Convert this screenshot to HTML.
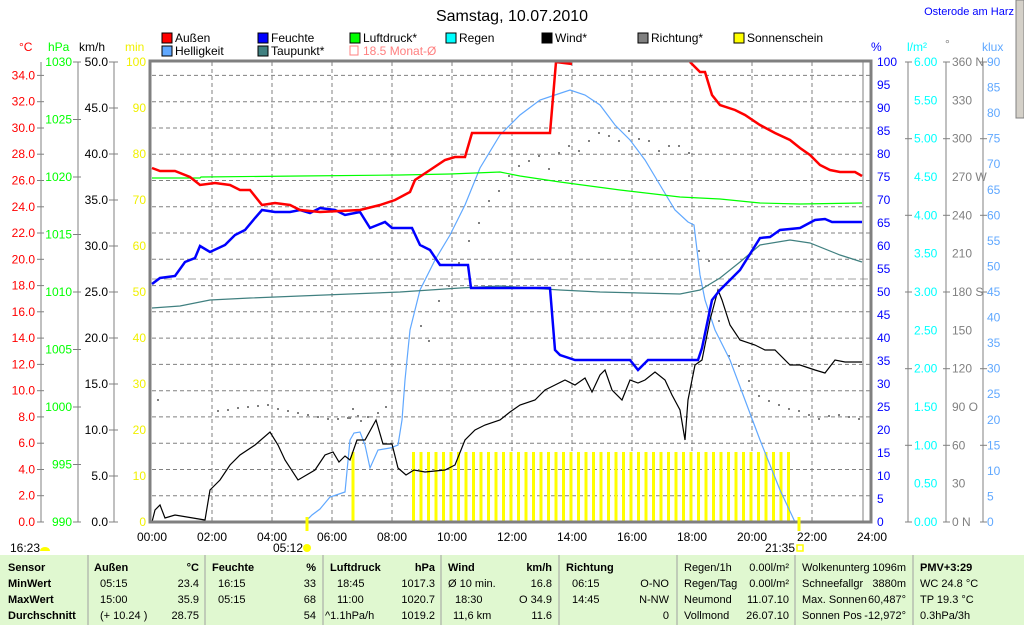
<!DOCTYPE html>
<html><head><meta charset="utf-8"><style>
html,body{margin:0;padding:0;background:#fff;width:1024px;height:625px;overflow:hidden}
svg{display:block;font-family:"Liberation Sans",sans-serif;font-size:12px}
</style></head><body>
<svg width="1024" height="625" viewBox="0 0 1024 625" xmlns="http://www.w3.org/2000/svg">
<text x="512" y="21" font-size="16" text-anchor="middle" fill="#000">Samstag, 10.07.2010</text>
<text x="1014" y="15" font-size="11" text-anchor="end" fill="#0000ff">Osterode am Harz</text>
<rect x="1016" y="0" width="8" height="118" fill="#d4d0c8" stroke="#808080"/>
<g font-size="12">
<rect x="162" y="33" width="10" height="10" fill="#ff0000" stroke="#000"/><text x="175" y="42">Außen</text>
<rect x="258" y="33" width="10" height="10" fill="#0000ff" stroke="#000"/><text x="271" y="42">Feuchte</text>
<rect x="350" y="33" width="10" height="10" fill="#00ff00" stroke="#000"/><text x="363" y="42">Luftdruck*</text>
<rect x="446" y="33" width="10" height="10" fill="#00ffff" stroke="#000"/><text x="459" y="42">Regen</text>
<rect x="542" y="33" width="10" height="10" fill="#000" stroke="#000"/><text x="555" y="42">Wind*</text>
<rect x="638" y="33" width="10" height="10" fill="#808080" stroke="#000"/><text x="651" y="42">Richtung*</text>
<rect x="734" y="33" width="10" height="10" fill="#ffff00" stroke="#000"/><text x="747" y="42">Sonnenschein</text>
<rect x="162" y="46" width="10" height="10" fill="#60a8ff" stroke="#000"/><text x="175" y="55">Helligkeit</text>
<rect x="258" y="46" width="10" height="10" fill="#408080" stroke="#000"/><text x="271" y="55">Taupunkt*</text>
<rect x="350" y="46" width="8" height="9" fill="none" stroke="#ff8080"/><text x="363" y="55" fill="#ff8080">18.5 Monat-Ø</text>
</g>
<g font-size="12">
<text x="19" y="51" fill="#ff0000">°C</text>
<text x="48" y="51" fill="#00ff00">hPa</text>
<text x="79" y="51" fill="#000">km/h</text>
<text x="125" y="51" fill="#f0f000">min</text>
<text x="871" y="51" fill="#0000ff">%</text>
<text x="907" y="51" fill="#00ffff">l/m²</text>
<text x="945" y="48" fill="#808080">°</text>
<text x="982" y="51" fill="#60a8ff">klux</text>
</g>
<g stroke="#808080" stroke-dasharray="4,3" stroke-width="1">
<line x1="152" y1="495.7" x2="871" y2="495.7"/><line x1="152" y1="469.5" x2="871" y2="469.5"/><line x1="152" y1="443.2" x2="871" y2="443.2"/><line x1="152" y1="416.9" x2="871" y2="416.9"/><line x1="152" y1="390.7" x2="871" y2="390.7"/><line x1="152" y1="364.4" x2="871" y2="364.4"/><line x1="152" y1="338.1" x2="871" y2="338.1"/><line x1="152" y1="311.8" x2="871" y2="311.8"/><line x1="152" y1="285.6" x2="871" y2="285.6"/><line x1="152" y1="259.3" x2="871" y2="259.3"/><line x1="152" y1="233" x2="871" y2="233"/><line x1="152" y1="206.8" x2="871" y2="206.8"/><line x1="152" y1="180.5" x2="871" y2="180.5"/><line x1="152" y1="154.2" x2="871" y2="154.2"/><line x1="152" y1="128" x2="871" y2="128"/><line x1="152" y1="101.7" x2="871" y2="101.7"/><line x1="152" y1="75.4" x2="871" y2="75.4"/>
<line x1="212" y1="62" x2="212" y2="522"/><line x1="272" y1="62" x2="272" y2="522"/><line x1="332" y1="62" x2="332" y2="522"/><line x1="392" y1="62" x2="392" y2="522"/><line x1="452" y1="62" x2="452" y2="522"/><line x1="512" y1="62" x2="512" y2="522"/><line x1="572" y1="62" x2="572" y2="522"/><line x1="632" y1="62" x2="632" y2="522"/><line x1="692" y1="62" x2="692" y2="522"/><line x1="752" y1="62" x2="752" y2="522"/><line x1="812" y1="62" x2="812" y2="522"/>
</g>
<line x1="152" y1="279" x2="871" y2="279" stroke="#a0a0a0" stroke-dasharray="8,4"/>
<line x1="863" y1="62" x2="863" y2="522" stroke="#808080"/>
<g fill="#ffff00">
<rect x="351.5" y="452" width="3" height="70"/>
<rect x="412" y="452" width="3" height="70"/><rect x="419.5" y="452" width="3" height="70"/><rect x="427" y="452" width="3" height="70"/><rect x="434.5" y="452" width="3" height="70"/><rect x="442" y="452" width="3" height="70"/><rect x="449.5" y="452" width="3" height="70"/><rect x="457" y="452" width="3" height="70"/><rect x="464.5" y="452" width="3" height="70"/><rect x="472" y="452" width="3" height="70"/><rect x="479.5" y="452" width="3" height="70"/><rect x="487" y="452" width="3" height="70"/><rect x="494.5" y="452" width="3" height="70"/><rect x="502" y="452" width="3" height="70"/><rect x="509.5" y="452" width="3" height="70"/><rect x="517" y="452" width="3" height="70"/><rect x="524.5" y="452" width="3" height="70"/><rect x="532" y="452" width="3" height="70"/><rect x="539.5" y="452" width="3" height="70"/><rect x="547" y="452" width="3" height="70"/><rect x="554.5" y="452" width="3" height="70"/><rect x="562" y="452" width="3" height="70"/><rect x="569.5" y="452" width="3" height="70"/><rect x="577" y="452" width="3" height="70"/><rect x="584.5" y="452" width="3" height="70"/><rect x="592" y="452" width="3" height="70"/><rect x="599.5" y="452" width="3" height="70"/><rect x="607" y="452" width="3" height="70"/><rect x="614.5" y="452" width="3" height="70"/><rect x="622" y="452" width="3" height="70"/><rect x="629.5" y="452" width="3" height="70"/><rect x="637" y="452" width="3" height="70"/><rect x="644.5" y="452" width="3" height="70"/><rect x="652" y="452" width="3" height="70"/><rect x="659.5" y="452" width="3" height="70"/><rect x="667" y="452" width="3" height="70"/><rect x="674.5" y="452" width="3" height="70"/><rect x="682" y="452" width="3" height="70"/><rect x="689.5" y="452" width="3" height="70"/><rect x="697" y="452" width="3" height="70"/><rect x="704.5" y="452" width="3" height="70"/><rect x="712" y="452" width="3" height="70"/><rect x="719.5" y="452" width="3" height="70"/><rect x="727" y="452" width="3" height="70"/><rect x="734.5" y="452" width="3" height="70"/><rect x="742" y="452" width="3" height="70"/><rect x="749.5" y="452" width="3" height="70"/><rect x="757" y="452" width="3" height="70"/><rect x="764.5" y="452" width="3" height="70"/><rect x="772" y="452" width="3" height="70"/><rect x="779.5" y="452" width="3" height="70"/><rect x="787" y="452" width="3" height="70"/>
</g>
<g fill="#808080">
<rect x="157" y="399" width="2" height="2"/><rect x="217" y="410" width="2" height="2"/><rect x="227" y="409" width="2" height="2"/><rect x="237" y="407" width="2" height="2"/><rect x="247" y="406" width="2" height="2"/><rect x="257" y="405" width="2" height="2"/><rect x="267" y="404" width="2" height="2"/><rect x="277" y="408" width="2" height="2"/><rect x="287" y="410" width="2" height="2"/><rect x="297" y="412" width="2" height="2"/><rect x="307" y="414" width="2" height="2"/><rect x="317" y="416" width="2" height="2"/><rect x="327" y="418" width="2" height="2"/><rect x="337" y="418" width="2" height="2"/><rect x="347" y="417" width="2" height="2"/><rect x="357" y="415" width="2" height="2"/><rect x="367" y="416" width="2" height="2"/><rect x="377" y="412" width="2" height="2"/><rect x="385" y="406" width="2" height="2"/><rect x="349" y="417" width="2" height="2"/><rect x="352" y="408" width="2" height="2"/><rect x="360" y="420" width="2" height="2"/>
<rect x="420" y="325" width="2" height="2"/><rect x="428" y="340" width="2" height="2"/><rect x="438" y="300" width="2" height="2"/><rect x="448" y="285" width="2" height="2"/><rect x="458" y="262" width="2" height="2"/><rect x="468" y="240" width="2" height="2"/><rect x="478" y="222" width="2" height="2"/><rect x="488" y="200" width="2" height="2"/><rect x="498" y="190" width="2" height="2"/><rect x="508" y="175" width="2" height="2"/><rect x="518" y="165" width="2" height="2"/><rect x="528" y="160" width="2" height="2"/><rect x="538" y="155" width="2" height="2"/><rect x="548" y="168" width="2" height="2"/><rect x="558" y="152" width="2" height="2"/><rect x="568" y="145" width="2" height="2"/><rect x="578" y="150" width="2" height="2"/><rect x="588" y="140" width="2" height="2"/><rect x="598" y="132" width="2" height="2"/><rect x="608" y="135" width="2" height="2"/><rect x="618" y="140" width="2" height="2"/><rect x="628" y="130" width="2" height="2"/><rect x="638" y="138" width="2" height="2"/><rect x="648" y="140" width="2" height="2"/><rect x="658" y="150" width="2" height="2"/><rect x="668" y="145" width="2" height="2"/><rect x="678" y="145" width="2" height="2"/><rect x="688" y="152" width="2" height="2"/><rect x="698" y="250" width="2" height="2"/><rect x="708" y="260" width="2" height="2"/><rect x="718" y="320" width="2" height="2"/><rect x="728" y="355" width="2" height="2"/><rect x="738" y="365" width="2" height="2"/><rect x="748" y="380" width="2" height="2"/><rect x="758" y="395" width="2" height="2"/><rect x="768" y="400" width="2" height="2"/><rect x="778" y="404" width="2" height="2"/><rect x="788" y="408" width="2" height="2"/><rect x="798" y="410" width="2" height="2"/><rect x="808" y="414" width="2" height="2"/><rect x="818" y="418" width="2" height="2"/><rect x="828" y="415" width="2" height="2"/><rect x="838" y="414" width="2" height="2"/><rect x="848" y="416" width="2" height="2"/><rect x="858" y="418" width="2" height="2"/>
</g>
<polyline fill="none" stroke="#60a8ff" stroke-width="1.2" points="152,522 305,522 312,515 320,509 330,497 345,492 350,440 354,433 360,432 365,445 370,468 378,450 390,448 398,445 402,420 405,380 410,330 420,290 435,260 450,235 465,205 480,168 500,135 520,115 540,100 555,95 570,90 585,95 600,105 615,125 630,140 645,160 660,185 675,210 688,222 694,225 700,275 705,300 715,330 730,360 745,400 760,440 780,490 795,522 862,522"/>
<polyline fill="none" stroke="#408080" stroke-width="1.2" points="152,308 180,306 210,300 250,298 300,296 350,294 400,292 460,288 500,286 560,290 600,292 640,293 680,294 700,290 720,278 740,262 760,245 790,240 810,243 840,255 862,262"/>
<polyline fill="none" stroke="#00ff00" stroke-width="1.2" points="152,178 200,178 201,177 300,176 400,175 450,174 500,172 520,176 560,182 620,190 680,197 720,199 760,203 800,204 862,203"/>
<polyline fill="none" stroke="#000" stroke-width="1.2" points="152,522 155,510 160,505 165,518 175,515 205,520 210,490 220,480 230,465 240,455 255,445 270,432 278,445 285,460 298,480 315,470 325,455 333,452 339,462 345,456 350,460 357,440 365,440 376,420 383,444 392,444 398,468 406,475 414,470 425,472 445,470 455,465 465,440 475,430 485,425 500,420 510,412 520,405 535,400 545,390 555,385 565,380 575,385 585,378 592,392 600,375 605,370 612,390 622,400 630,380 638,383 645,380 655,372 665,380 672,395 680,410 685,440 688,400 695,365 702,360 710,320 718,290 722,300 730,325 740,340 755,345 765,350 775,350 790,365 800,365 815,370 825,373 835,360 845,362 862,362"/>
<polyline fill="none" stroke="#0000ff" stroke-width="2.5" points="152,284 160,278 175,276 185,262 195,258 200,246 210,252 225,245 235,235 245,230 255,218 262,210 275,212 290,212 300,210 310,213 320,208 335,210 345,215 360,212 370,228 385,222 392,228 412,228 420,245 430,250 440,265 468,265 471,288 550,288 555,350 560,355 575,360 630,360 638,370 648,360 698,360 702,348 712,300 720,290 730,280 740,270 760,238 770,237 780,230 800,228 815,220 825,219 832,222 862,222"/>
<polyline fill="none" stroke="#ff0000" stroke-width="2.5" points="152,168 160,171 175,171 190,177 200,185 215,183 230,185 240,190 250,190 262,205 275,203 290,205 300,210 320,212 340,211 360,210 380,205 395,200 410,192 415,180 430,170 445,160 455,157 465,157 472,133 550,133 556,62 572,64"/>
<polyline fill="none" stroke="#ff0000" stroke-width="2.5" points="690,62 700,72 705,72 712,95 720,105 735,110 745,115 760,125 775,133 790,140 800,148 810,155 820,165 830,170 840,172 855,172 862,176"/>
<rect x="150" y="61" width="721" height="461" fill="none" stroke="#808080" stroke-width="3"/>
<line x1="307" y1="517" x2="307" y2="531" stroke="#ffff00" stroke-width="3"/>
<line x1="799" y1="517" x2="799" y2="531" stroke="#ffff00" stroke-width="3"/>
<g stroke="#808080"><line x1="41" y1="62" x2="41" y2="522"/><line x1="78" y1="62" x2="78" y2="522"/><line x1="114" y1="62" x2="114" y2="522"/>
<line x1="908" y1="62" x2="908" y2="522"/><line x1="946" y1="62" x2="946" y2="522"/><line x1="983" y1="62" x2="983" y2="522"/></g>
<g font-size="12" fill="#ff0000" text-anchor="end">
<text x="35" y="526">0.0</text><text x="35" y="499.7">2.0</text><text x="35" y="473.5">4.0</text><text x="35" y="447.2">6.0</text><text x="35" y="420.9">8.0</text><text x="35" y="394.7">10.0</text><text x="35" y="368.4">12.0</text><text x="35" y="342.1">14.0</text><text x="35" y="315.8">16.0</text><text x="35" y="289.6">18.0</text><text x="35" y="263.3">20.0</text><text x="35" y="237">22.0</text><text x="35" y="210.8">24.0</text><text x="35" y="184.5">26.0</text><text x="35" y="158.2">28.0</text><text x="35" y="132">30.0</text><text x="35" y="105.7">32.0</text><text x="35" y="79.4">34.0</text>
</g>
<g stroke="#808080">
<line x1="37" y1="522" x2="44" y2="522"/><line x1="37" y1="495.7" x2="44" y2="495.7"/><line x1="37" y1="469.5" x2="44" y2="469.5"/><line x1="37" y1="443.2" x2="44" y2="443.2"/><line x1="37" y1="416.9" x2="44" y2="416.9"/><line x1="37" y1="390.7" x2="44" y2="390.7"/><line x1="37" y1="364.4" x2="44" y2="364.4"/><line x1="37" y1="338.1" x2="44" y2="338.1"/><line x1="37" y1="311.8" x2="44" y2="311.8"/><line x1="37" y1="285.6" x2="44" y2="285.6"/><line x1="37" y1="259.3" x2="44" y2="259.3"/><line x1="37" y1="233" x2="44" y2="233"/><line x1="37" y1="206.8" x2="44" y2="206.8"/><line x1="37" y1="180.5" x2="44" y2="180.5"/><line x1="37" y1="154.2" x2="44" y2="154.2"/><line x1="37" y1="128" x2="44" y2="128"/><line x1="37" y1="101.7" x2="44" y2="101.7"/><line x1="37" y1="75.4" x2="44" y2="75.4"/>
<line x1="73" y1="522" x2="81" y2="522"/><line x1="73" y1="464.5" x2="81" y2="464.5"/><line x1="73" y1="407" x2="81" y2="407"/><line x1="73" y1="349.5" x2="81" y2="349.5"/><line x1="73" y1="292" x2="81" y2="292"/><line x1="73" y1="234.5" x2="81" y2="234.5"/><line x1="73" y1="177" x2="81" y2="177"/><line x1="73" y1="119.5" x2="81" y2="119.5"/><line x1="73" y1="62" x2="81" y2="62"/>
<line x1="109" y1="522" x2="118" y2="522"/><line x1="109" y1="476" x2="118" y2="476"/><line x1="109" y1="430" x2="118" y2="430"/><line x1="109" y1="384" x2="118" y2="384"/><line x1="109" y1="338" x2="118" y2="338"/><line x1="109" y1="292" x2="118" y2="292"/><line x1="109" y1="246" x2="118" y2="246"/><line x1="109" y1="200" x2="118" y2="200"/><line x1="109" y1="154" x2="118" y2="154"/><line x1="109" y1="108" x2="118" y2="108"/><line x1="109" y1="62" x2="118" y2="62"/>
</g>
<g font-size="12" fill="#00ff00" text-anchor="end">
<text x="72" y="526">990</text><text x="72" y="468.5">995</text><text x="72" y="411">1000</text><text x="72" y="353.5">1005</text><text x="72" y="296">1010</text><text x="72" y="238.5">1015</text><text x="72" y="181">1020</text><text x="72" y="123.5">1025</text><text x="72" y="66">1030</text>
</g>
<g font-size="12" fill="#000" text-anchor="end">
<text x="108" y="526">0.0</text><text x="108" y="480">5.0</text><text x="108" y="434">10.0</text><text x="108" y="388">15.0</text><text x="108" y="342">20.0</text><text x="108" y="296">25.0</text><text x="108" y="250">30.0</text><text x="108" y="204">35.0</text><text x="108" y="158">40.0</text><text x="108" y="112">45.0</text><text x="108" y="66">50.0</text>
</g>
<g font-size="12" fill="#f0f000" text-anchor="end">
<text x="146" y="526">0</text><text x="146" y="480">10</text><text x="146" y="434">20</text><text x="146" y="388">30</text><text x="146" y="342">40</text><text x="146" y="296">50</text><text x="146" y="250">60</text><text x="146" y="204">70</text><text x="146" y="158">80</text><text x="146" y="112">90</text><text x="146" y="66">100</text>
</g>
<g font-size="12" fill="#0000ff">
<text x="877" y="526">0</text><text x="877" y="503">5</text><text x="877" y="480">10</text><text x="877" y="457">15</text><text x="877" y="434">20</text><text x="877" y="411">25</text><text x="877" y="388">30</text><text x="877" y="365">35</text><text x="877" y="342">40</text><text x="877" y="319">45</text><text x="877" y="296">50</text><text x="877" y="273">55</text><text x="877" y="250">60</text><text x="877" y="227">65</text><text x="877" y="204">70</text><text x="877" y="181">75</text><text x="877" y="158">80</text><text x="877" y="135">85</text><text x="877" y="112">90</text><text x="877" y="89">95</text><text x="877" y="66">100</text>
</g>
<g font-size="12" fill="#00ffff">
<text x="914" y="526">0.00</text><text x="914" y="487.7">0.50</text><text x="914" y="449.3">1.00</text><text x="914" y="411">1.50</text><text x="914" y="372.7">2.00</text><text x="914" y="334.3">2.50</text><text x="914" y="296">3.00</text><text x="914" y="257.7">3.50</text><text x="914" y="219.3">4.00</text><text x="914" y="181">4.50</text><text x="914" y="142.7">5.00</text><text x="914" y="104.3">5.50</text><text x="914" y="66">6.00</text>
</g>
<g font-size="12" fill="#808080">
<text x="952" y="526">0   N</text><text x="952" y="487.7">30</text><text x="952" y="449.3">60</text><text x="952" y="411">90  O</text><text x="952" y="372.7">120</text><text x="952" y="334.3">150</text><text x="952" y="296">180 S</text><text x="952" y="257.7">210</text><text x="952" y="219.3">240</text><text x="952" y="181">270 W</text><text x="952" y="142.7">300</text><text x="952" y="104.3">330</text><text x="952" y="66">360 N</text>
</g>
<g font-size="12" fill="#60a8ff">
<text x="987" y="526">0</text><text x="987" y="500.4">5</text><text x="987" y="474.8">10</text><text x="987" y="449.3">15</text><text x="987" y="423.8">20</text><text x="987" y="398.2">25</text><text x="987" y="372.7">30</text><text x="987" y="347.1">35</text><text x="987" y="321.6">40</text><text x="987" y="296">45</text><text x="987" y="270.4">50</text><text x="987" y="244.9">55</text><text x="987" y="219.3">60</text><text x="987" y="193.8">65</text><text x="987" y="168.2">70</text><text x="987" y="142.7">75</text><text x="987" y="117.1">80</text><text x="987" y="91.6">85</text><text x="987" y="66">90</text>
</g>
<g stroke="#808080">
<line x1="905" y1="522" x2="912" y2="522"/><line x1="905" y1="445.3" x2="912" y2="445.3"/><line x1="905" y1="368.7" x2="912" y2="368.7"/><line x1="905" y1="292" x2="912" y2="292"/><line x1="905" y1="215.3" x2="912" y2="215.3"/><line x1="905" y1="138.7" x2="912" y2="138.7"/><line x1="905" y1="62" x2="912" y2="62"/>
<line x1="943" y1="522" x2="950" y2="522"/><line x1="943" y1="445.3" x2="950" y2="445.3"/><line x1="943" y1="368.7" x2="950" y2="368.7"/><line x1="943" y1="292" x2="950" y2="292"/><line x1="943" y1="215.3" x2="950" y2="215.3"/><line x1="943" y1="138.7" x2="950" y2="138.7"/><line x1="943" y1="62" x2="950" y2="62"/>
<line x1="980" y1="522" x2="987" y2="522"/><line x1="980" y1="445.3" x2="987" y2="445.3"/><line x1="980" y1="368.7" x2="987" y2="368.7"/><line x1="980" y1="292" x2="987" y2="292"/><line x1="980" y1="215.3" x2="987" y2="215.3"/><line x1="980" y1="138.7" x2="987" y2="138.7"/><line x1="980" y1="62" x2="987" y2="62"/>
</g>
<g font-size="12" fill="#000" text-anchor="middle">
<text x="152" y="541">00:00</text><text x="212" y="541">02:00</text><text x="272" y="541">04:00</text><text x="332" y="541">06:00</text><text x="392" y="541">08:00</text><text x="452" y="541">10:00</text><text x="512" y="541">12:00</text><text x="572" y="541">14:00</text><text x="632" y="541">16:00</text><text x="692" y="541">18:00</text><text x="752" y="541">20:00</text><text x="812" y="541">22:00</text><text x="872" y="541">24:00</text>
</g>
<g font-size="12" fill="#000">
<text x="10" y="552">16:23</text><path d="M40 551 a5 4 0 0 1 10 0 z" fill="#ffff00"/>
<text x="273" y="552">05:12</text><circle cx="307" cy="548" r="4" fill="#ffff00"/>
<text x="765" y="552">21:35</text><rect x="797" y="545" width="6" height="6" fill="none" stroke="#ffff00" stroke-width="1.5"/>
</g>
<rect x="0" y="555" width="1024" height="70" fill="#e0f8d0"/>
<g stroke="#a0a0a0"><line x1="88" y1="555" x2="88" y2="625"/><line x1="205" y1="555" x2="205" y2="625"/><line x1="323" y1="555" x2="323" y2="625"/><line x1="441" y1="555" x2="441" y2="625"/><line x1="559" y1="555" x2="559" y2="625"/><line x1="677" y1="555" x2="677" y2="625"/><line x1="795" y1="555" x2="795" y2="625"/><line x1="913" y1="555" x2="913" y2="625"/></g>
<g font-size="11" fill="#000">
<g font-weight="bold"><text x="8" y="571">Sensor</text><text x="8" y="587">MinWert</text><text x="8" y="603">MaxWert</text><text x="8" y="619">Durchschnitt</text>
<text x="94" y="571">Außen</text><text x="212" y="571">Feuchte</text><text x="330" y="571">Luftdruck</text><text x="448" y="571">Wind</text><text x="566" y="571">Richtung</text><text x="920" y="571">PMV+3:29</text></g>
<g font-weight="bold" text-anchor="end"><text x="199" y="571">°C</text><text x="316" y="571">%</text><text x="435" y="571">hPa</text><text x="552" y="571">km/h</text></g>
<text x="100" y="587">05:15</text><text x="100" y="603">15:00</text><text x="100" y="619">(+ 10.24 )</text>
<text x="218" y="587">16:15</text><text x="218" y="603">05:15</text>
<text x="337" y="587">18:45</text><text x="337" y="603">11:00</text><text x="325" y="619">^1.1hPa/h</text>
<text x="448" y="587">Ø 10 min.</text><text x="455" y="603">18:30</text><text x="453" y="619">11,6 km</text>
<text x="572" y="587">06:15</text><text x="572" y="603">14:45</text>
<text x="684" y="571">Regen/1h</text><text x="684" y="587">Regen/Tag</text><text x="684" y="603">Neumond</text><text x="684" y="619">Vollmond</text>
<text x="802" y="571">Wolkenunterg</text><text x="802" y="587">Schneefallgr</text><text x="802" y="603">Max. Sonnen</text><text x="802" y="619">Sonnen Pos</text>
<text x="920" y="587">WC 24.8 °C</text><text x="920" y="603">TP 19.3 °C</text><text x="920" y="619">0.3hPa/3h</text>
<g text-anchor="end">
<text x="199" y="587">23.4</text><text x="199" y="603">35.9</text><text x="199" y="619">28.75</text>
<text x="316" y="587">33</text><text x="316" y="603">68</text><text x="316" y="619">54</text>
<text x="435" y="587">1017.3</text><text x="435" y="603">1020.7</text><text x="435" y="619">1019.2</text>
<text x="552" y="587">16.8</text><text x="552" y="603">O 34.9</text><text x="552" y="619">11.6</text>
<text x="669" y="587">O-NO</text><text x="669" y="603">N-NW</text><text x="669" y="619">0</text>
<text x="789" y="571">0.00l/m²</text><text x="789" y="587">0.00l/m²</text><text x="789" y="603">11.07.10</text><text x="789" y="619">26.07.10</text>
<text x="906" y="571">1096m</text><text x="906" y="587">3880m</text><text x="906" y="603">60,487°</text><text x="906" y="619">-12,972°</text>
</g>
</g>
</svg>
</body></html>
